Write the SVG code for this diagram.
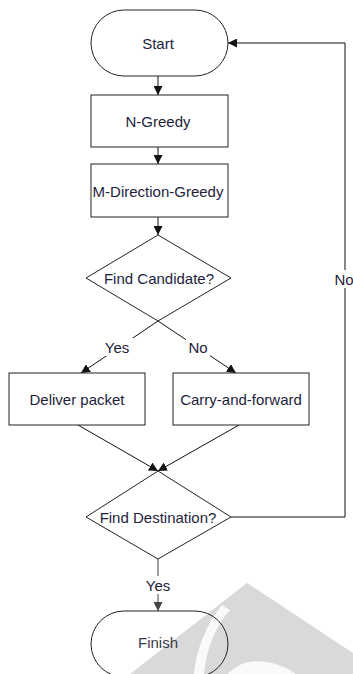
<svg xmlns="http://www.w3.org/2000/svg" width="353" height="674" viewBox="0 0 353 674">
<style>
.shape{fill:#fff;stroke:#222;stroke-width:1}
.open{fill:none;stroke:#222;stroke-width:1}
.t{font-family:"Liberation Sans",Arial,sans-serif;font-size:15px;fill:#1e1e3c;text-anchor:middle;dominant-baseline:central}
.c{fill:none;stroke:#111;stroke-width:1}
.lbl{fill:#fff;stroke:none}
</style>
<defs>
<marker id="ah" viewBox="0 0 10 10" refX="10" refY="5" markerWidth="9" markerHeight="9" markerUnits="userSpaceOnUse" orient="auto">
<path d="M0,0 L10,5 L0,10 Z" fill="#111"/>
</marker>
<marker id="ahg" viewBox="0 0 10 10" refX="10" refY="5" markerWidth="9" markerHeight="9" markerUnits="userSpaceOnUse" orient="auto">
<path d="M0,0 L10,5 L0,10 Z" fill="#444"/>
</marker>
</defs>
<rect width="353" height="674" fill="#fff"/>
<g id="watermark">
<path d="M247,583 L353,653 L353,674 L130,674 Z" fill="#d9d9d9"/>
<path d="M222,605 C206,625 196,650 194,674 L204,674 C206,652 214,628 230,610 Z" fill="#fff" opacity="0.85"/>
<path d="M228,674 C240,660 262,656 290,670 L296,674 Z" fill="#fff" opacity="0.85"/>
</g>
<g id="connectors">
<line class="c" x1="158" y1="76" x2="158" y2="95" marker-end="url(#ah)"/>
<line class="c" x1="158" y1="147" x2="158" y2="164" marker-end="url(#ah)"/>
<line class="c" x1="158" y1="217" x2="158" y2="235" marker-end="url(#ah)"/>
<line class="c" x1="158" y1="321" x2="81" y2="373" marker-end="url(#ah)"/>
<line class="c" x1="158" y1="321" x2="236" y2="373" marker-end="url(#ah)"/>
<line class="c" x1="78" y1="425" x2="158" y2="471" marker-end="url(#ah)"/>
<line class="c" x1="239" y1="425" x2="158" y2="471" marker-end="url(#ah)"/>
<polyline class="c" points="231,517 345,517 345,43 228,43" marker-end="url(#ah)"/>
<line x1="158" y1="559" x2="158" y2="611" stroke="#444" stroke-width="1" marker-end="url(#ahg)"/>
<rect class="lbl" x="101" y="338" width="32" height="18"/>
<text class="t" x="117" y="347">Yes</text>
<rect class="lbl" x="186" y="338" width="24" height="18"/>
<text class="t" x="198" y="347">No</text>
<rect class="lbl" x="334" y="270" width="19" height="18"/>
<text class="t" x="344" y="279">No</text>
<rect class="lbl" x="142" y="576" width="32" height="18"/>
<text class="t" x="158" y="585">Yes</text>
</g>
<g id="start">
<rect class="shape" x="91" y="10" width="137" height="66" rx="33" ry="33"/>
<text class="t" x="158" y="43">Start</text>
</g>
<g id="n-greedy">
<rect class="shape" x="91" y="95" width="137" height="52"/>
<text class="t" x="158" y="121">N-Greedy</text>
</g>
<g id="m-direction-greedy">
<rect class="shape" x="91" y="164" width="137" height="53"/>
<text class="t" x="158" y="191">M-Direction-Greedy</text>
</g>
<g id="find-candidate">
<polygon class="open" points="158,235 231,278 158,321 86,278"/>
<text class="t" x="159" y="278">Find Candidate?</text>
</g>
<g id="deliver-packet">
<rect class="shape" x="9" y="373" width="136" height="52"/>
<text class="t" x="77" y="399">Deliver packet</text>
</g>
<g id="carry-and-forward">
<rect class="shape" x="173" y="373" width="136" height="52"/>
<text class="t" x="241" y="399">Carry-and-forward</text>
</g>
<g id="find-destination">
<polygon class="open" points="158,471 231,517 158,559 86,517"/>
<text class="t" x="158" y="517">Find Destination?</text>
</g>
<g id="finish">
<rect class="open" x="91" y="611" width="137" height="66" rx="33" ry="33"/>
<text class="t" x="158" y="642" style="fill:#3a3a4a">Finish</text>
</g>
</svg>
